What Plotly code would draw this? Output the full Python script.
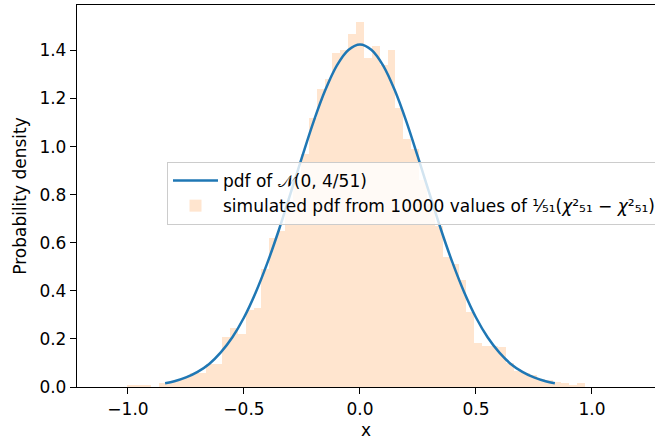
import plotly.graph_objects as go

# ---- data ----
bin_start = -1.003
bin_width = 0.034
hist_density = [
    0.006, 0.009, 0.006, 0.0, 0.017, 0.02, 0.03, 0.04, 0.058, 0.058,
    0.095, 0.095, 0.21, 0.245, 0.22, 0.32, 0.33, 0.49, 0.62, 0.65,
    0.75, 0.86, 0.97, 1.12, 1.24, 1.28, 1.39, 1.40, 1.47, 1.52,
    1.37, 1.42, 1.34, 1.40, 1.16, 1.03, 0.99, 0.86, 0.76, 0.67,
    0.54, 0.51, 0.445, 0.31, 0.185, 0.17, 0.17, 0.165, 0.10, 0.065,
    0.06, 0.05, 0.035, 0.03, 0.02, 0.015, 0.008, 0.015,
]
curve_x = [-0.84, -0.8, -0.75, -0.7, -0.65, -0.6, -0.55, -0.5, -0.45, -0.4,
           -0.35, -0.3, -0.25, -0.2, -0.15, -0.1, -0.05, 0.0,
           0.05, 0.1, 0.15, 0.2, 0.25, 0.3, 0.35, 0.4, 0.45, 0.5,
           0.55, 0.6, 0.65, 0.7, 0.75, 0.8, 0.84]
curve_y = [0.016, 0.024, 0.040, 0.063, 0.096, 0.144, 0.207, 0.289, 0.392, 0.514,
           0.652, 0.803, 0.956, 1.104, 1.234, 1.337, 1.402, 1.425,
           1.402, 1.337, 1.234, 1.104, 0.956, 0.803, 0.652, 0.514, 0.392, 0.289,
           0.207, 0.144, 0.096, 0.063, 0.040, 0.024, 0.016]
x_ticks = [-1.0, -0.5, 0.0, 0.5, 1.0]
x_ticklabels = ["\u22121.0", "\u22120.5", "0.0", "0.5", "1.0"]
y_ticks = [0.0, 0.2, 0.4, 0.6, 0.8, 1.0, 1.2, 1.4]
y_ticklabels = ["0.0", "0.2", "0.4", "0.6", "0.8", "1.0", "1.2", "1.4"]
line_label = "pdf of 𝒩(0, 4/51)"
hist_label = "simulated pdf from 10000 values of ¹⁄₅₁(<i>χ</i>²₅₁ − <i>χ</i>²₅₁)"

bin_centers = [bin_start + bin_width * (i + 0.5) for i in range(len(hist_density))]

FONT = "DejaVu Sans"
FS = 17

fig = go.Figure()
fig.add_trace(go.Bar(
    x=bin_centers, y=hist_density, width=bin_width,
    marker=dict(color="#ffe5cf", line=dict(width=0)),
    name=hist_label, legendrank=2,
))
fig.add_trace(go.Scatter(
    x=curve_x, y=curve_y, mode="lines",
    line=dict(color="#1f77b4", width=2.5, shape="spline"),
    name=line_label, legendrank=1,
))

fig.update_layout(
    width=655, height=443,
    margin=dict(l=77, r=0, t=5, b=56, autoexpand=False),
    plot_bgcolor="white", paper_bgcolor="white",
    font=dict(family=FONT, size=FS, color="black"),
    bargap=0,
    showlegend=True,
    legend=dict(
        x=(167 - 77) / 578, y=(387 - 162) / 382, xanchor="left", yanchor="top",
        bgcolor="rgba(255,255,255,0.8)", bordercolor="#cccccc", borderwidth=1,
        font=dict(family=FONT, size=FS, color="black"),
        itemwidth=45,
    ),
    xaxis=dict(
        range=[-1.2198, 1.2716], tickvals=x_ticks, ticktext=x_ticklabels,
        showgrid=False, zeroline=False, showline=True, linecolor="black", linewidth=1.3,
        mirror=True, ticks="outside", ticklen=6, tickwidth=1.3, tickcolor="black",
        tickfont=dict(family=FONT, size=FS),
        title=dict(text="x", standoff=6, font=dict(family=FONT, size=FS)),
    ),
    yaxis=dict(
        range=[0, 1.589], tickvals=y_ticks, ticktext=y_ticklabels,
        showgrid=False, zeroline=False, showline=True, linecolor="black", linewidth=1.3,
        ticks="outside", ticklen=6, tickwidth=1.3, tickcolor="black",
        tickfont=dict(family=FONT, size=FS),
        title=dict(text="Probability density", standoff=8, font=dict(family=FONT, size=FS)),
    ),
)

fig.write_html("out.html", config={"displayModeBar": False},
               post_script="document.body.style.margin='0';")
